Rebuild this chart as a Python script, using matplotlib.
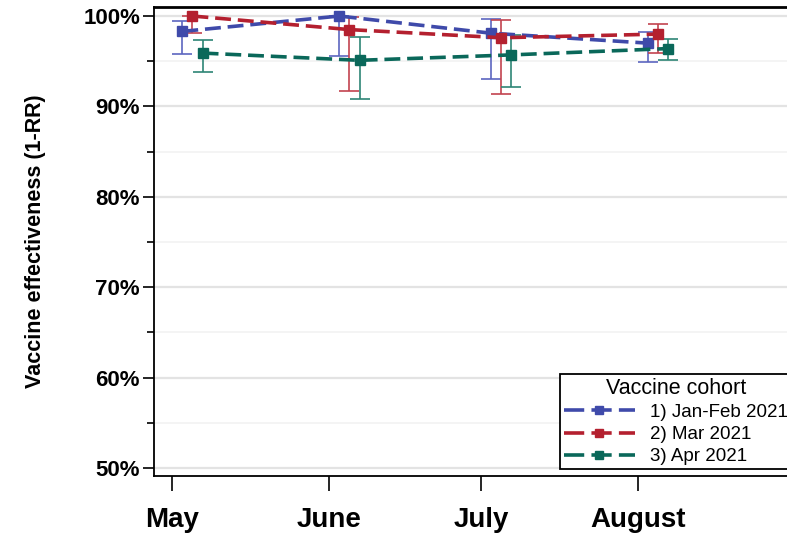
import matplotlib
matplotlib.use('Agg')
import numpy as np
import matplotlib.pyplot as plt
from matplotlib.lines import Line2D
from matplotlib.ticker import MultipleLocator, FuncFormatter

plt.rcParams['font.family'] = ['Liberation Sans', 'DejaVu Sans']

# months as day offsets from 1 May
months = ['May', 'June', 'July', 'August']
month_days = [0, 31, 61, 92]

cohorts = ['1) Jan-Feb 2021', '2) Mar 2021', '3) Apr 2021']
shift = [2, 4, 6]  # small dodge per cohort (days)

ve_jan = [98.3, 100.0, 98.1, 97.0]
lo_jan = [95.8, 95.6, 93.0, 94.9]
hi_jan = [99.45, 100.0, 99.7, 98.2]

ve_mar = [100.0, 98.5, 97.6, 98.0]
lo_mar = [98.1, 91.7, 91.4, 95.9]
hi_mar = [100.0, 99.9, 99.6, 99.1]

ve_apr = [95.9, 95.1, 95.7, 96.4]
lo_apr = [93.85, 90.8, 92.1, 95.1]
hi_apr = [97.35, 97.7, 97.9, 97.45]

line_colors = ['#3F4AAA', '#B4202F', '#0A685A']
bar_colors = ['#5C66C0', '#C2434F', '#2E8575']

fig = plt.figure(figsize=(7.87, 5.33), dpi=100)
ax = fig.add_axes([154/787, 1-476/533, (800-154)/787, (476-7)/533])

series = [(ve_jan, lo_jan, hi_jan), (ve_mar, lo_mar, hi_mar), (ve_apr, lo_apr, hi_apr)]
for i, (ve, lo, hi) in enumerate(series):
    x = np.array(month_days) + shift[i]
    ve = np.array(ve); lo = np.array(lo); hi = np.array(hi)
    ax.errorbar(x, ve, yerr=[ve - lo, hi - ve], fmt='none', ecolor=bar_colors[i],
                elinewidth=1.2, capsize=7, capthick=1.2, zorder=3)
    ax.plot(x, ve, color=line_colors[i], lw=2.6, dashes=(4.4, 1.9),
            marker='s', markersize=7, zorder=4)

# legend proxies: dash - marker - dash
handles = [Line2D([], [], color=c, lw=2.6, dashes=(5.6, 2.0), marker='s', markersize=5.5)
           for c in line_colors]

ax.set_ylim(49.1, 101.0)
ax.set_xlim(-3.6, 124)
ax.yaxis.set_major_locator(MultipleLocator(10))
ax.yaxis.set_minor_locator(MultipleLocator(5))
ax.yaxis.set_major_formatter(FuncFormatter(lambda v, p: '%d%%' % v))
ax.set_xticks(month_days)
ax.set_xticklabels(months)

ax.grid(axis='y', which='major', color='#E3E3E3', lw=1.6, zorder=0)
ax.grid(axis='y', which='minor', color='#F2F2F2', lw=1.2, zorder=0)
ax.set_axisbelow(True)

for s in ax.spines.values():
    s.set_linewidth(1.3)
ax.spines['top'].set_linewidth(2)

ax.tick_params(axis='y', which='major', length=8, width=1.2, labelsize=16, pad=2)
ax.tick_params(axis='y', which='minor', length=5, width=1.2)
ax.tick_params(axis='x', length=11, width=1.2, labelsize=20, pad=11)
for lab in ax.get_yticklabels() + ax.get_xticklabels():
    lab.set_fontweight('bold')

ax.set_ylabel('Vaccine effectiveness (1-RR)', fontsize=15.5, fontweight='bold', labelpad=27)

leg = ax.legend(handles=handles, labels=cohorts, title='Vaccine cohort', loc='upper left',
                bbox_to_anchor=(560/787, 1-374/533), bbox_transform=fig.transFigure,
                fontsize=13.5, title_fontsize=15.5, handlelength=3.8, handletextpad=0.8,
                labelspacing=0.27, borderpad=0.2, borderaxespad=0, fancybox=False,
                framealpha=1, edgecolor='black')
leg.get_frame().set_linewidth(1.3)

fig.savefig('out.png', dpi=100)
